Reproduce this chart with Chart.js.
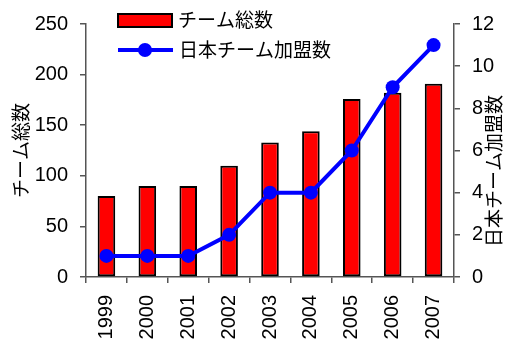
<!DOCTYPE html>
<html>
<head>
<meta charset="utf-8">
<script src="https://cdn.jsdelivr.net/npm/chart.js@4"></script>
<style>
  html, body { margin: 0; padding: 0; background: #fff; }
  #wrap { width: 506px; height: 339px; }
</style>
</head>
<body>
<div id="wrap"><canvas id="chart" width="506" height="339"></canvas></div>
<script>
// data
const years = ['1999', '2000', '2001', '2002', '2003', '2004', '2005', '2006', '2007'];
const totalTeams = [80, 90, 90, 110, 133, 144, 176, 182, 191];
const japanTeams = [1, 1, 1, 2, 4, 4, 6, 9, 11];

const barLabel = 'チーム総数';
const lineLabel = '日本チーム加盟数';

const numFont = { family: '"Liberation Sans", Arial, sans-serif', size: 20 };
const jpFont = '"Noto Sans CJK JP", sans-serif';
const axisColor = '#555';

// legend + right axis title drawn by hand (right title reads bottom to top)
const extras = {
  id: 'extras',
  afterDraw(chart) {
    const c = chart.ctx;
    c.save();
    c.font = '19px ' + jpFont;
    c.fillStyle = '#000';
    c.textBaseline = 'middle';
    c.textAlign = 'left';

    // bar entry
    c.fillStyle = '#ff0000';
    c.fillRect(118, 14, 54, 13);
    c.strokeStyle = '#000';
    c.lineWidth = 2;
    c.strokeRect(118, 14, 54, 13);
    c.fillStyle = '#000';
    c.fillText(barLabel, 178, 20);

    // line entry
    c.strokeStyle = '#0000ff';
    c.lineWidth = 4;
    c.beginPath();
    c.moveTo(118, 50);
    c.lineTo(173, 50);
    c.stroke();
    c.fillStyle = '#0000ff';
    c.beginPath();
    c.arc(145, 50, 7, 0, Math.PI * 2);
    c.fill();
    c.fillStyle = '#000';
    c.fillText(lineLabel, 179, 50);

    // right axis title
    c.translate(494, 171);
    c.rotate(-Math.PI / 2);
    c.textAlign = 'center';
    c.fillText(lineLabel, 0, 0);
    c.restore();
  }
};

new Chart(document.getElementById('chart'), {
  type: 'bar',
  data: {
    labels: years,
    datasets: [
      {
        type: 'line',
        label: lineLabel,
        data: japanTeams,
        yAxisID: 'y1',
        borderColor: '#0000ff',
        backgroundColor: '#0000ff',
        borderWidth: 4,
        pointRadius: 7,
        pointBackgroundColor: '#0000ff',
        pointBorderWidth: 0,
        tension: 0,
        order: 0
      },
      {
        label: barLabel,
        data: totalTeams,
        yAxisID: 'y',
        backgroundColor: '#ff0000',
        borderColor: '#000',
        borderWidth: 2,
        borderSkipped: false,
        categoryPercentage: 1,
        barPercentage: 0.43,
        order: 1
      }
    ]
  },
  options: {
    responsive: false,
    animation: false,
    layout: { padding: { top: 21, right: 0, bottom: 0, left: 0 } },
    plugins: { legend: { display: false }, tooltip: { enabled: false } },
    scales: {
      x: {
        offset: true,
        grid: { display: true, drawOnChartArea: false, offset: true, tickLength: 6, color: axisColor, lineWidth: 1.5 },
        border: { color: axisColor, width: 1.5 },
        ticks: { font: numFont, color: '#000', minRotation: 90, maxRotation: 90, padding: 12 },
        afterFit: s => { s.height = 62; }
      },
      y: {
        position: 'left',
        min: 0,
        max: 250,
        ticks: { stepSize: 50, font: numFont, color: '#000', padding: 12 },
        grid: { display: true, drawOnChartArea: false, tickLength: 6, color: axisColor, lineWidth: 1.5 },
        border: { color: axisColor, width: 1.5 },
        title: { display: true, text: barLabel, font: { family: jpFont, size: 19 }, color: '#000', padding: { top: 9, bottom: 0 } },
        afterFit: s => { s.width = 86; }
      },
      y1: {
        position: 'right',
        min: 0,
        max: 12,
        ticks: { stepSize: 2, font: numFont, color: '#000', padding: 12 },
        grid: { display: true, drawOnChartArea: false, tickLength: 6, color: axisColor, lineWidth: 1.5 },
        border: { color: axisColor, width: 1.5 },
        afterFit: s => { s.width = 52; }
      }
    }
  },
  plugins: [extras]
});
</script>
</body>
</html>
